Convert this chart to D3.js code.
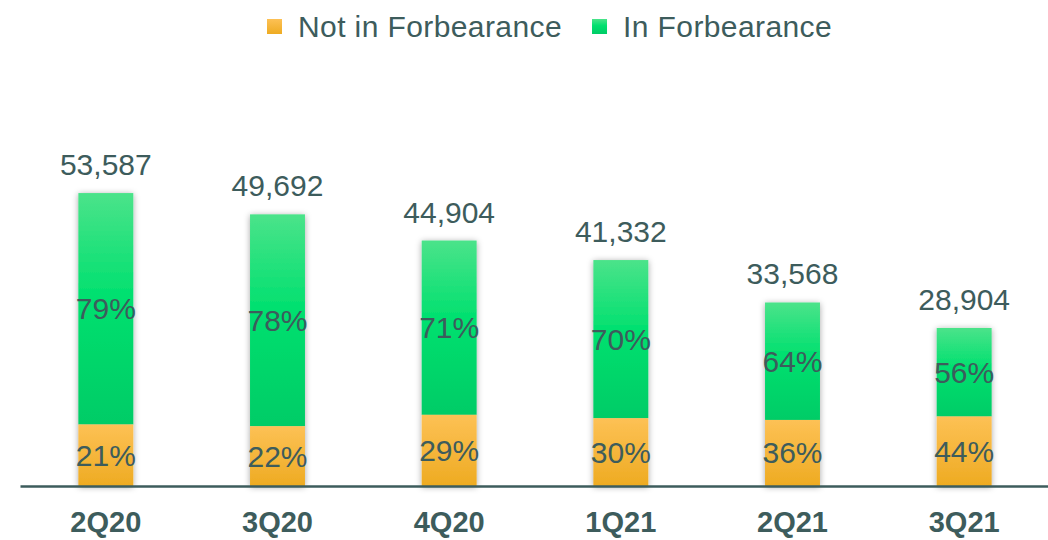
<!DOCTYPE html>
<html>
<head>
    <title>Forbearance</title>
    <script src="https://d3js.org/d3.v7.min.js"></script>
    <style>
        body {
            margin: 0;
            background: #fff;
        }
        text {
            font-family: "Liberation Sans", Arial, sans-serif;
        }
    </style>
</head>
<body>
    <div id="chart"></div>
    <script>
        let quarters = ["2Q20", "3Q20", "4Q20", "1Q21", "2Q21", "3Q21"];
        let totals = [53587, 49692, 44904, 41332, 33568, 28904];
        let pctNotIn = [21, 22, 29, 30, 36, 44];
        let pctIn = [79, 78, 71, 70, 64, 56];
        let seriesNames = ["Not in Forbearance", "In Forbearance"];

        let width = 1048;
        let height = 540;
        let textColor = "#3d5c5c";

        let svg = d3.select("#chart").append("svg")
            .attr("width", width)
            .attr("height", height);

        let defs = svg.append("defs");

        let gGreen = defs.append("linearGradient")
            .attr("id", "green").attr("x1", 0).attr("y1", 0).attr("x2", 0).attr("y2", 1);
        gGreen.append("stop").attr("offset", "0%").attr("stop-color", "#4be38a");
        gGreen.append("stop").attr("offset", "45%").attr("stop-color", "#00e06f");
        gGreen.append("stop").attr("offset", "100%").attr("stop-color", "#00cc66");

        let gOrange = defs.append("linearGradient")
            .attr("id", "orange").attr("x1", 0).attr("y1", 0).attr("x2", 0).attr("y2", 1);
        gOrange.append("stop").attr("offset", "0%").attr("stop-color", "#fdc155");
        gOrange.append("stop").attr("offset", "100%").attr("stop-color", "#eeab22");

        let shadow = defs.append("filter")
            .attr("id", "shadow")
            .attr("x", "-40%").attr("y", "-10%").attr("width", "180%").attr("height", "120%");
        shadow.append("feDropShadow")
            .attr("dx", 0).attr("dy", 1)
            .attr("stdDeviation", 3)
            .attr("flood-color", "#000")
            .attr("flood-opacity", 0.35);

        let data = quarters.map((q, i) => ({
            q: q,
            total: totals[i],
            notIn: totals[i] * pctNotIn[i] / 100,
            pNot: pctNotIn[i],
            pIn: pctIn[i]
        }));

        let x = d3.scaleBand()
            .domain(quarters)
            .range([20, 1050])
            .paddingInner(0.68)
            .paddingOuter(0.34);

        let y = d3.scaleLinear()
            .domain([0, 60000])
            .range([486, 158]);

        let bars = svg.append("g")
            .selectAll("g")
            .data(data)
            .join("g")
            .attr("filter", "url(#shadow)");

        bars.append("rect")
            .attr("x", d => x(d.q))
            .attr("width", x.bandwidth())
            .attr("y", d => y(d.total))
            .attr("height", d => y(d.notIn) - y(d.total))
            .attr("fill", "url(#green)");

        bars.append("rect")
            .attr("x", d => x(d.q))
            .attr("width", x.bandwidth())
            .attr("y", d => y(d.notIn))
            .attr("height", d => y(0) - y(d.notIn))
            .attr("fill", "url(#orange)");

        let labels = svg.append("g")
            .attr("fill", textColor)
            .attr("font-size", 30)
            .attr("text-anchor", "middle");

        labels.selectAll(".total")
            .data(data)
            .join("text")
            .attr("class", "total")
            .attr("x", d => x(d.q) + x.bandwidth() / 2)
            .attr("y", d => y(d.total) - 18)
            .text(d => d3.format(",")(d.total));

        labels.selectAll(".pin")
            .data(data)
            .join("text")
            .attr("class", "pin")
            .attr("x", d => x(d.q) + x.bandwidth() / 2)
            .attr("y", d => (y(d.total) + y(d.notIn)) / 2)
            .attr("dy", "0.35em")
            .text(d => d.pIn + "%");

        labels.selectAll(".pnot")
            .data(data)
            .join("text")
            .attr("class", "pnot")
            .attr("x", d => x(d.q) + x.bandwidth() / 2)
            .attr("y", d => (y(d.notIn) + y(0)) / 2)
            .attr("dy", "0.35em")
            .text(d => d.pNot + "%");

        let axis = svg.append("g")
            .attr("transform", `translate(0,${y(0)})`)
            .call(d3.axisBottom(x).tickSize(0).tickSizeOuter(0).tickPadding(25));
        axis.select(".domain")
            .attr("stroke", textColor)
            .attr("stroke-width", 2.5);
        axis.selectAll("text")
            .attr("fill", textColor)
            .attr("font-size", 29)
            .attr("font-weight", "bold")
            .attr("font-family", "'Liberation Sans', Arial, sans-serif");

        // legend
        let legend = svg.append("g").attr("transform", "translate(267,0)");
        let legendFills = ["url(#orange)", "url(#green)"];
        let lx = 0;
        seriesNames.forEach((name, i) => {
            legend.append("rect")
                .attr("x", lx).attr("y", 19)
                .attr("width", 15).attr("height", 15)
                .attr("fill", legendFills[i]);
            let t = legend.append("text")
                .attr("x", lx + 31).attr("y", 37)
                .attr("fill", textColor)
                .attr("font-size", 30)
                .attr("letter-spacing", 0.4)
                .text(name);
            lx += 31 + t.node().getComputedTextLength() + 30;
        });
    </script>
</body>
</html>
